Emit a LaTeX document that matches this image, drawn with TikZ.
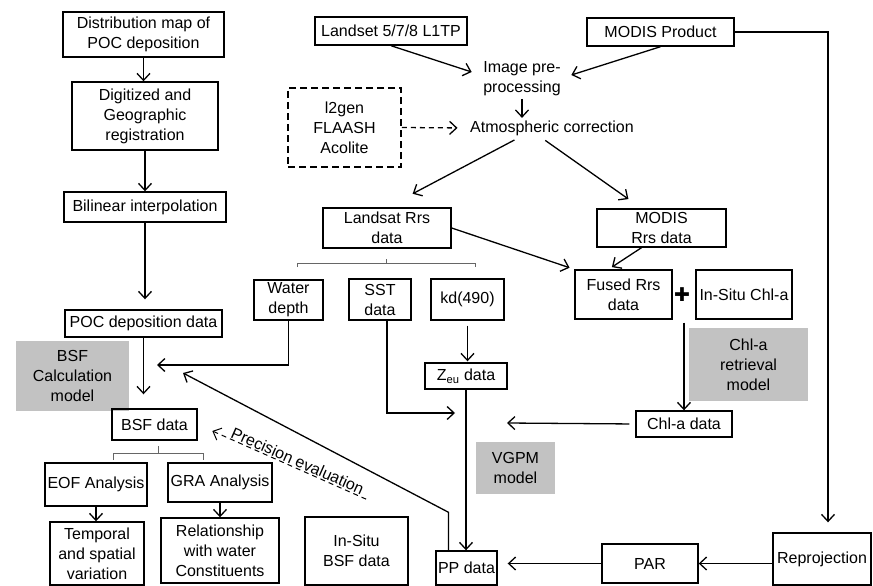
\documentclass[tikz,border=0pt]{standalone}
\usepackage{fontspec}
\setmainfont{Liberation Sans}
\newfontfamily\crossfont{DejaVu Sans}
\usetikzlibrary{arrows.meta}

\begin{document}
\begin{tikzpicture}[x=1pt, y=-1pt, line width=1.3pt,
    font=\fontsize{16}{20}\selectfont,
    >={Straight Barb[length=7pt, width=13pt]},
    box/.style={draw, line width=1.4pt, align=center, inner sep=1pt},
    model/.style={fill=black!24, align=center, inner sep=1pt},
    algobox/.style={draw, line width=1.8pt, dash pattern=on 7pt off 4pt, align=center},
    plain/.style={align=center, inner sep=2pt},
    bracket/.style={line width=0.7pt, black!60},
    link/.style={->},
    dashlink/.style={dash pattern=on 5pt off 4pt}]
    \useasboundingbox (0,0) rectangle (873,586);

    % POC / BSF branch
    \node[box, minimum width=161, minimum height=45] (distmap) at (143.5,34.5) {Distribution map of\\POC deposition};
    \node[box, minimum width=146, minimum height=68] (digit) at (145,116) {Digitized and\\Geographic\\registration};
    \node[box, minimum width=162, minimum height=30] (bilin) at (145,207) {Bilinear interpolation};
    \node[box, minimum width=157, minimum height=27] (pocdata) at (143.5,323.5) {POC deposition data};
    \node[model, minimum width=113, minimum height=70] (bsfmodel) at (72.5,376) {BSF\\Calculation\\model};
    \node[box, minimum width=85, minimum height=31] (bsfdata) at (154.5,424.5) {BSF data};
    \node[box, minimum width=102, minimum height=43] (eof) at (96,484.5) {EOF Analysis};
    \node[box, minimum width=104, minimum height=39] (gra) at (220,482.5) {GRA Analysis};
    \node[box, minimum width=94, minimum height=63] (tempvar) at (97,553.5) {Temporal\\and spatial\\variation};
    \node[box, minimum width=118, minimum height=65] (relation) at (220,550.5) {Relationship\\with water\\Constituents};

    % satellite inputs
    \node[box, minimum width=152, minimum height=28] (landset) at (391,31) {Landset 5/7/8 L1TP};
    \node[box, minimum width=147, minimum height=28] (modisprod) at (660.5,32) {MODIS Product};
    \node[plain] (preproc) at (522,79) {Image pre-\\processing};
    \node[plain] (atmcorr) at (552,128) {Atmospheric correction};
    \node[algobox, minimum width=113, minimum height=79] (algos) at (344.5,127.5) {l2gen\\FLAASH\\Acolite};
    \node[box, minimum width=128, minimum height=40] (landsatrrs) at (387,228) {Landsat Rrs\\data};
    \node[box, minimum width=129, minimum height=38] (modisrrs) at (661.5,228) {MODIS\\Rrs data};

    % PP branch
    \node[box, minimum width=69, minimum height=40] (depth) at (288.5,300) {Water\\depth};
    \node[box, minimum width=62, minimum height=41] (sst) at (380,299.5) {SST\\data};
    \node[box, minimum width=73, minimum height=41] (kd) at (467.5,299.5) {kd(490)};
    \node[box, minimum width=82, minimum height=26] (zeu) at (466,376) {Z\textsubscript{eu} data};
    \node[box, minimum width=97, minimum height=49] (fused) at (623.5,294.5) {Fused Rrs\\data};
    \node[inner sep=0pt] (plus) at (682,295) {\fontsize{19}{19}\crossfont ✚};
    \node[box, minimum width=96, minimum height=49] (insituchl) at (744,294.5) {In-Situ Chl-a};
    \node[model, minimum width=119, minimum height=73] (chlmodel) at (748.5,364.5) {Chl-a\\retrieval\\model};
    \node[box, minimum width=96, minimum height=26] (chldata) at (684,424) {Chl-a data};
    \node[model, minimum width=79, minimum height=52] (vgpm) at (515.5,468) {VGPM\\model};
    \node[box, minimum width=61, minimum height=34] (ppdata) at (466.5,568) {PP data};
    \node[box, minimum width=103, minimum height=68] (insitubsf) at (356.5,551) {In-Situ\\BSF data};
    \node[box, minimum width=96, minimum height=39] (par) at (650,563.5) {PAR};
    \node[box, minimum width=98, minimum height=52] (reproj) at (822,559) {Reprojection};

    \coordinate (depthtip) at (157,365);
    \coordinate (evaltip) at (183,373);
    \coordinate (evalend) at (368,500);
    \coordinate (ssttip) at (455,413);
    \coordinate (chltip) at (507,423);

    \draw[link] (distmap.south) -- (distmap.south |- digit.north);
    \draw[link] (digit.south) -- (digit.south |- bilin.north);
    \draw[link, shorten >=10] (bilin.south) -- (bilin.south |- pocdata.north);
    \draw[link, shorten >=14] (pocdata.south) -- (pocdata.south |- bsfdata.north);
    \draw[link] (eof.south) -- (eof.south |- tempvar.north);
    \draw[link] (gra.south) -- (gra.south |- relation.north);
    \draw[bracket] (113,460) -- (113,453) -- (203,453) -- (203,460) (158,453) -- (158,446);

    \draw[link] (landset.south) -- ([shift={(-9,-7)}]preproc.west);
    \draw[link] (modisprod.south) -- ([shift={(8,-4)}]preproc.east);
    \draw[link] (preproc.south) -- (preproc.south |- atmcorr.north);
    \draw[link, dashlink, shorten >=10] (algos.east) -- (atmcorr.west);
    \draw[link, shorten <=4, shorten >=29] ([xshift=-34]atmcorr.south) -- (landsatrrs.north);
    \draw[link, shorten <=4, shorten >=16] ([xshift=-10]atmcorr.south) -- ([xshift=-20]modisrrs.north);
    \draw[link, shorten >=5] (landsatrrs.east) -- (fused.north west);
    \draw[link, shorten >=4] ([xshift=-20]modisrrs.south) -- ([xshift=-15]fused.north);
    \draw[bracket] (297,267) -- (297,263) -- (475,263) -- (475,267) (386,263) -- (386,259);

    \draw[link] (depth.south) |- (depthtip);
    \draw[link, shorten <=5, shorten >=1] (kd.south) -- (kd.south |- zeu.north);
    \draw[link] ([xshift=7]sst.south) |- (ssttip);
    \draw[link] (zeu.south) -- (zeu.south |- ppdata.north);
    \draw[link, shorten <=20] (chldata.north |- plus.south) -- (chldata.north);
    \draw[link, shorten <=6] (chldata.west) -- (chltip);
    \draw[link] ([xshift=-18]ppdata.north) -- ++(0,-38) -- (evaltip);
    \draw[<-, dashlink, line width=1pt, shorten <=16] (bsfdata.east) -- (evalend)
        node[pos=0.57, sloped, above, inner sep=1pt] {Precision evaluation};

    \draw[link, shorten >=10] (modisprod.east) -| ([xshift=6]reproj.north);
    \draw[link] (reproj.west |- par.east) -- (par.east);
    \draw[link, shorten >=10] (par.west) -- (par.west -| ppdata.east);
\end{tikzpicture}
\end{document}
